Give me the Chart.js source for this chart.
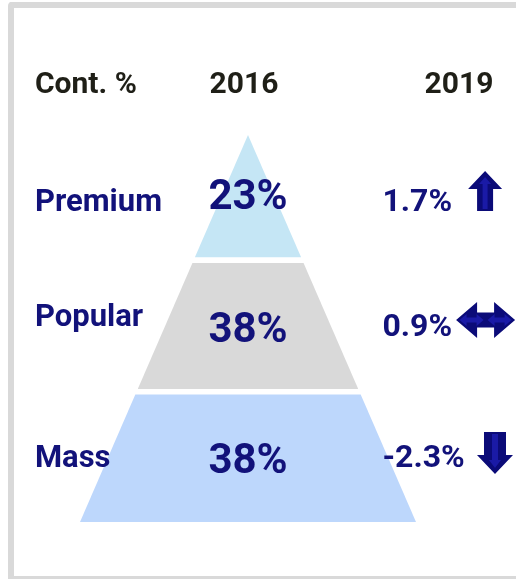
<!DOCTYPE html>
<html>
<head>
<meta charset="utf-8">
<script src="https://cdn.jsdelivr.net/npm/chart.js@4.4.1/dist/chart.umd.min.js"></script>
<style>
    html, body { margin: 0; padding: 0; background: #fff; overflow: hidden; }
    #wrap { position: relative; width: 516px; height: 579px; overflow: hidden; }
    #frame {
        position: absolute; left: 8px; top: 2px; width: 560px; height: 580px;
        border: 6px solid #d9d9d9; border-right: none; border-radius: 4px;
        box-sizing: border-box;
    }
    #chart { position: absolute; left: 0; top: 0; }
</style>
</head>
<body>
<div id="wrap">
    <div id="frame"></div>
    <canvas id="chart" width="516" height="579"></canvas>
</div>
<script>
// Chart values
const headers = ['Cont. %', '2016', '2019'];
const segments = ['Premium', 'Popular', 'Mass'];
const share2016 = [23, 38, 38];
const change2019 = [1.7, 0.9, -2.3];
const trend = ['up', 'flat', 'down'];

const tierColors = ['#c5e6f5', '#d9d9d9', '#bdd7fc'];
const NAVY = '#12127a';
const ARROW_DARK = '#0b0b78';
const ARROW_LIGHT = '#1a1aa6';
const FONT = 'Roboto, "Liberation Sans", sans-serif';

// Pyramid geometry: y in "levels" (0 = base, 3 = apex), x in base half-widths
const LEVELS = segments.length;
const TIER_EDGES = [0, 1.01, 2.03, 3];
const GAP = 0.022;

function halfWidth(level) {
    return (LEVELS - level) / LEVELS;
}

// Build a trapezoid outline for each tier, filled down to its base level
function tierDataset(i) {
    const k = LEVELS - 1 - i; // Premium sits on top
    const lo = TIER_EDGES[k] + (k > 0 ? GAP : 0);
    const hi = TIER_EDGES[k + 1] - (k + 1 < LEVELS ? GAP : 0);
    return {
        label: segments[i],
        data: [
            { x: -halfWidth(lo), y: lo },
            { x: -halfWidth(hi), y: hi },
            { x: halfWidth(hi), y: hi },
            { x: halfWidth(lo), y: lo }
        ],
        showLine: true,
        borderWidth: 0,
        borderColor: 'rgba(0,0,0,0)',
        backgroundColor: tierColors[i],
        pointRadius: 0,
        fill: { value: lo },
        tension: 0
    };
}

// Text layout (x in half-widths, y in levels)
const COL_X = { label: -1.268, year1: -0.024, value: 0, year2: 1.256, change: 0.80 };
const HEADER_Y = 3.326;
const LABEL_Y = [2.411, 1.519, 0.426];
const VALUE_Y = [2.426, 1.395, 0.380];
const CHANGE_Y = [2.411, 1.442, 0.426];
const ARROW_X = [1.411, 1.414, 1.470];
const ARROW_Y = [2.566, 1.566, 0.535];

function drawVArrow(ctx, cx, cy, w, h, headH, shaftW, dir, color) {
    // dir: -1 up, 1 down
    const top = cy - h / 2, bot = cy + h / 2;
    ctx.beginPath();
    if (dir < 0) {
        ctx.moveTo(cx, top);
        ctx.lineTo(cx + w / 2, top + headH);
        ctx.lineTo(cx + shaftW / 2, top + headH);
        ctx.lineTo(cx + shaftW / 2, bot);
        ctx.lineTo(cx - shaftW / 2, bot);
        ctx.lineTo(cx - shaftW / 2, top + headH);
        ctx.lineTo(cx - w / 2, top + headH);
    } else {
        ctx.moveTo(cx, bot);
        ctx.lineTo(cx + w / 2, bot - headH);
        ctx.lineTo(cx + shaftW / 2, bot - headH);
        ctx.lineTo(cx + shaftW / 2, top);
        ctx.lineTo(cx - shaftW / 2, top);
        ctx.lineTo(cx - shaftW / 2, bot - headH);
        ctx.lineTo(cx - w / 2, bot - headH);
    }
    ctx.closePath();
    ctx.fillStyle = color;
    ctx.fill();
}

function drawHArrow(ctx, cx, cy, w, h, headW, shaftH, color) {
    const l = cx - w / 2, r = cx + w / 2;
    ctx.beginPath();
    ctx.moveTo(l, cy);
    ctx.lineTo(l + headW, cy - h / 2);
    ctx.lineTo(l + headW, cy - shaftH / 2);
    ctx.lineTo(r - headW, cy - shaftH / 2);
    ctx.lineTo(r - headW, cy - h / 2);
    ctx.lineTo(r, cy);
    ctx.lineTo(r - headW, cy + h / 2);
    ctx.lineTo(r - headW, cy + shaftH / 2);
    ctx.lineTo(l + headW, cy + shaftH / 2);
    ctx.lineTo(l + headW, cy + h / 2);
    ctx.closePath();
    ctx.fillStyle = color;
    ctx.fill();
}

function drawTrend(ctx, kind, cx, cy) {
    if (kind === 'up') {
        drawVArrow(ctx, cx, cy, 34, 40, 18, 16, -1, ARROW_DARK);
        drawVArrow(ctx, cx, cy + 2, 12, 32, 7, 5, -1, ARROW_LIGHT);
    } else if (kind === 'down') {
        drawVArrow(ctx, cx, cy, 36, 42, 19, 22, 1, ARROW_DARK);
        drawVArrow(ctx, cx, cy - 2, 12, 34, 8, 6, 1, ARROW_LIGHT);
    } else {
        drawHArrow(ctx, cx, cy, 59, 36, 21, 15, ARROW_DARK);
        drawHArrow(ctx, cx - 14, cy, 24, 12, 7, 5, ARROW_LIGHT);
        drawHArrow(ctx, cx + 14, cy, 24, 12, 7, 5, ARROW_LIGHT);
    }
}

// Plugin for headers, labels, values and trend arrows
const pyramidText = {
    id: 'pyramidText',
    afterDatasetsDraw(chart) {
        const ctx = chart.ctx;
        const x = chart.scales.x;
        const y = chart.scales.y;
        ctx.save();
        ctx.textBaseline = 'alphabetic';

        // Header row
        ctx.fillStyle = '#1f1f17';
        ctx.font = 'bold 30px ' + FONT;
        ctx.textAlign = 'left';
        ctx.fillText(headers[0], x.getPixelForValue(COL_X.label), y.getPixelForValue(HEADER_Y));
        ctx.textAlign = 'center';
        ctx.fillText(headers[1], x.getPixelForValue(COL_X.year1), y.getPixelForValue(HEADER_Y));
        ctx.fillText(headers[2], x.getPixelForValue(COL_X.year2), y.getPixelForValue(HEADER_Y));

        segments.forEach((name, i) => {
            ctx.fillStyle = NAVY;

            ctx.font = 'bold 31px ' + FONT;
            ctx.textAlign = 'left';
            ctx.fillText(name, x.getPixelForValue(COL_X.label), y.getPixelForValue(LABEL_Y[i]));

            ctx.font = 'bold 42px ' + FONT;
            ctx.textAlign = 'center';
            ctx.fillText(share2016[i] + '%', x.getPixelForValue(COL_X.value), y.getPixelForValue(VALUE_Y[i]));

            ctx.font = 'bold 32px ' + FONT;
            ctx.textAlign = 'left';
            ctx.fillText(change2019[i].toFixed(1) + '%', x.getPixelForValue(COL_X.change), y.getPixelForValue(CHANGE_Y[i]));

            drawTrend(ctx, trend[i], x.getPixelForValue(ARROW_X[i]), y.getPixelForValue(ARROW_Y[i]));
        });
        ctx.restore();
    }
};

const ctx = document.getElementById('chart');
new Chart(ctx, {
    type: 'scatter',
    data: {
        datasets: segments.map((s, i) => tierDataset(i))
    },
    options: {
        responsive: false,
        animation: false,
        layout: { padding: 0 },
        scales: {
            x: { type: 'linear', display: false, min: -1.476, max: 1.595 },
            y: { type: 'linear', display: false, min: -0.442, max: 4.047 }
        },
        plugins: {
            legend: { display: false },
            tooltip: { enabled: false }
        }
    },
    plugins: [pyramidText]
});
</script>
</body>
</html>
